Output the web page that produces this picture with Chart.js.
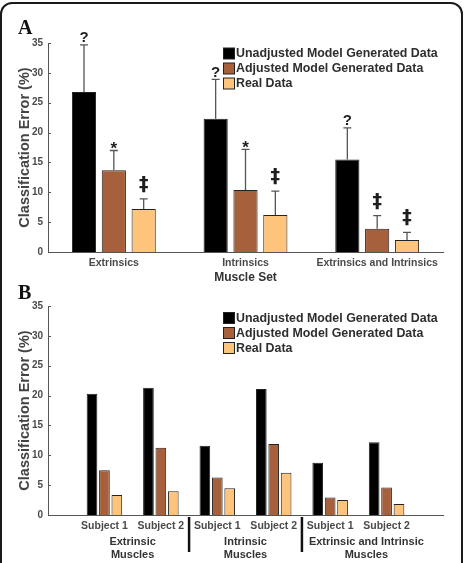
<!DOCTYPE html>
<html>
<head>
<meta charset="utf-8">
<script src="https://cdn.jsdelivr.net/npm/chart.js@4.4.1/dist/chart.umd.min.js"></script>
<style>
	body { margin: 0; background: #fff; }
	#wrap { position: relative; width: 465px; height: 563px; overflow: hidden; }
	#frame { position: absolute; left: 0; top: 2px; width: 463px; height: 620px; box-sizing: border-box; border: 2px solid #1a1a1a; border-radius: 12px; }
	canvas { position: absolute; left: 0; }
	#chartA { top: 0; }
	#chartB { top: 280px; }
</style>
</head>
<body>
<div id="wrap">
	<div id="frame"></div>
	<canvas id="chartA" width="465" height="284"></canvas>
	<canvas id="chartB" width="465" height="283"></canvas>
</div>
<script>
// ---- panel A : mean error per muscle set, with upper SD
const muscleSets = ['Extrinsics', 'Intrinsics', 'Extrinsics and Intrinsics'];
const unadjA = [26.8, 22.3, 15.5];
const adjA = [13.7, 10.4, 3.9];
const realA = [7.2, 6.2, 2.0];
const unadjErrA = [7.9, 6.6, 5.3];
const adjErrA = [3.3, 6.8, 2.2];
const realErrA = [1.7, 4.0, 1.3];
const unadjMarkA = ['?', '?', '?'];
const adjMarkA = ['*', '*', '\u2021'];
const realMarkA = ['\u2021', '\u2021', '\u2021'];

// ---- panel B : per subject (first and last slot are empty spacers)
const subjects = ['', 'Subject 1', 'Subject 2', 'Subject 1', 'Subject 2', 'Subject 1', 'Subject 2', ''];
const unadjB = [null, 20.3, 21.3, 11.6, 21.1, 8.75, 12.2, null];
const adjB = [null, 7.5, 11.25, 6.3, 11.9, 2.95, 4.6, null];
const realB = [null, 3.35, 3.96, 4.46, 7.08, 2.5, 1.84, null];
const groupNames = [['Extrinsic', 'Muscles'], ['Intrinsic', 'Muscles'], ['Extrinsic and Intrinsic', 'Muscles']];

const seriesNames = ['Unadjusted Model Generated Data', 'Adjusted Model Generated Data', 'Real Data'];
const seriesColors = ['#000000', '#a6613c', '#fec47c'];

const FONT = '"Liberation Sans", Arial, sans-serif';
const TICK_GREY = '#4a4a4a';

// small inward ticks on the y axis, panel letter and legend
const frameBits = {
	id: 'frameBits',
	afterDraw(chart, args, opts) {
		const ctx = chart.ctx;
		const ys = chart.scales.y;
		const area = chart.chartArea;
		ctx.save();
		ctx.strokeStyle = '#555';
		ctx.lineWidth = 1;
		ys.ticks.forEach(t => {
			const py = Math.round(ys.getPixelForValue(t.value)) + 0.5;
			ctx.beginPath();
			ctx.moveTo(area.left, py);
			ctx.lineTo(area.left + 3, py);
			ctx.stroke();
		});
		// panel letter
		ctx.fillStyle = '#111';
		ctx.font = 'bold 20px "Liberation Serif", "Times New Roman", serif';
		ctx.textBaseline = 'alphabetic';
		ctx.fillText(opts.letter, 18, opts.letterY);
		// legend
		let ly = area.top + opts.legendDy;
		ctx.font = 'bold 12.4px ' + FONT;
		ctx.textBaseline = 'middle';
		seriesNames.forEach((name, i) => {
			ctx.fillStyle = seriesColors[i];
			ctx.fillRect(223.5, ly + 0.5, 11, 11);
			ctx.strokeStyle = '#222';
			ctx.strokeRect(223.5, ly + 0.5, 11, 11);
			ctx.fillStyle = '#2e2e2e';
			ctx.fillText(name, 236, ly + 6.5);
			ly += 15;
		});
		ctx.restore();
	}
};

// upper error bars and significance marks for panel A
const errorBars = {
	id: 'errorBars',
	afterDatasetsDraw(chart) {
		const ctx = chart.ctx;
		const ys = chart.scales.y;
		const errs = [unadjErrA, adjErrA, realErrA];
		const marks = [unadjMarkA, adjMarkA, realMarkA];
		ctx.save();
		chart.data.datasets.forEach((ds, di) => {
			const meta = chart.getDatasetMeta(di);
			meta.data.forEach((bar, i) => {
				const topV = ds.data[i] + errs[di][i];
				const yTop = ys.getPixelForValue(topV);
				ctx.strokeStyle = '#555';
				ctx.lineWidth = 1.3;
				ctx.beginPath();
				ctx.moveTo(bar.x, bar.y);
				ctx.lineTo(bar.x, yTop);
				ctx.moveTo(bar.x - 4, yTop);
				ctx.lineTo(bar.x + 4, yTop);
				ctx.stroke();
				const m = marks[di][i];
				ctx.fillStyle = '#1e1e1e';
				ctx.textAlign = 'center';
				ctx.textBaseline = 'alphabetic';
				if (m === '?') {
					ctx.font = 'bold 15px ' + FONT;
					ctx.fillText(m, bar.x, yTop - 2.5);
				} else if (m === '*') {
					ctx.font = 'bold 17px ' + FONT;
					ctx.fillText(m, bar.x, yTop + 4);
				} else {
					ctx.font = 'bold 19px "DejaVu Sans", ' + FONT;
					ctx.fillText(m, bar.x, yTop - 9);
				}
			});
		});
		ctx.restore();
	}
};

// group captions and separators under panel B
const groupCaptions = {
	id: 'groupCaptions',
	afterDraw(chart) {
		const ctx = chart.ctx;
		const xs = chart.scales.x;
		const nudge = [0, 0, 8];   // last caption sits a little right of its group
		ctx.save();
		ctx.strokeStyle = '#111';
		ctx.lineWidth = 2.5;
		[2.5, 4.5].forEach(v => {
			const px = xs.getPixelForValue(v);
			ctx.beginPath();
			ctx.moveTo(px, 237);
			ctx.lineTo(px, 272);
			ctx.stroke();
		});
		ctx.fillStyle = '#333';
		ctx.font = 'bold 11px ' + FONT;
		ctx.textAlign = 'center';
		ctx.textBaseline = 'middle';
		groupNames.forEach((lines, g) => {
			const px = xs.getPixelForValue(1.5 + g * 2) + nudge[g];
			ctx.fillText(lines[0], px, 262.2);
			ctx.fillText(lines[1], px, 274.8);
		});
		ctx.restore();
	}
};

function makeDatasets(a, b, c) {
	return [a, b, c].map((d, i) => ({
		label: seriesNames[i],
		data: d,
		backgroundColor: seriesColors[i],
		borderColor: '#222',
		borderWidth: 1
	}));
}

function yAxis() {
	return {
		min: 0,
		max: 35,
		grid: { display: false, drawTicks: false },
		border: { display: true, color: '#555', width: 1 },
		ticks: { stepSize: 5, padding: 5, color: TICK_GREY, font: { family: FONT, size: 10, weight: 'bold' } },
		title: { display: true, text: 'Classification Error (%)', color: '#444', padding: { top: 16 }, font: { family: FONT, size: 14.5, weight: 'bold' } },
		afterFit: s => { s.width = 48; }
	};
}

const chartA = new Chart(document.getElementById('chartA').getContext('2d'), {
	type: 'bar',
	data: { labels: muscleSets, datasets: makeDatasets(unadjA, adjA, realA) },
	options: {
		responsive: false,
		animation: false,
		devicePixelRatio: 1,
		layout: { padding: { left: 0, right: 22, top: 43, bottom: 0 } },
		datasets: { bar: { categoryPercentage: 0.68, barPercentage: 0.81 } },
		plugins: {
			legend: { display: false },
			tooltip: { enabled: false },
			frameBits: { letter: 'A', letterY: 33.5, legendDy: 4.5 }
		},
		scales: {
			x: {
				grid: { display: false, drawTicks: false },
				border: { display: true, color: '#555', width: 1 },
				ticks: { padding: 5, maxRotation: 0, minRotation: 0, autoSkip: false, color: TICK_GREY, font: { family: FONT, size: 10.5, weight: 'bold' } },
				title: { display: true, text: 'Muscle Set', color: '#333', padding: 0, font: { family: FONT, size: 12, weight: 'bold', lineHeight: 1 } },
				afterFit: s => { s.height = 32; }
			},
			y: yAxis()
		}
	},
	plugins: [frameBits, errorBars]
});

const chartB = new Chart(document.getElementById('chartB').getContext('2d'), {
	type: 'bar',
	data: { labels: subjects, datasets: makeDatasets(unadjB, adjB, realB) },
	options: {
		responsive: false,
		animation: false,
		devicePixelRatio: 1,
		layout: { padding: { left: 0, right: 22, top: 26, bottom: 0 } },
		datasets: { bar: { categoryPercentage: 0.66, barPercentage: 0.86 } },
		plugins: {
			legend: { display: false },
			tooltip: { enabled: false },
			frameBits: { letter: 'B', letterY: 18.5, legendDy: 6 }
		},
		scales: {
			x: {
				offset: false,
				grid: { display: false, drawTicks: false },
				border: { display: true, color: '#555', width: 1 },
				ticks: { padding: 5, maxRotation: 0, minRotation: 0, autoSkip: false, color: TICK_GREY, font: { family: FONT, size: 10.5, weight: 'bold' } },
				afterFit: s => { s.height = 48; }
			},
			y: yAxis()
		}
	},
	plugins: [frameBits, groupCaptions]
});
</script>
</body>
</html>
